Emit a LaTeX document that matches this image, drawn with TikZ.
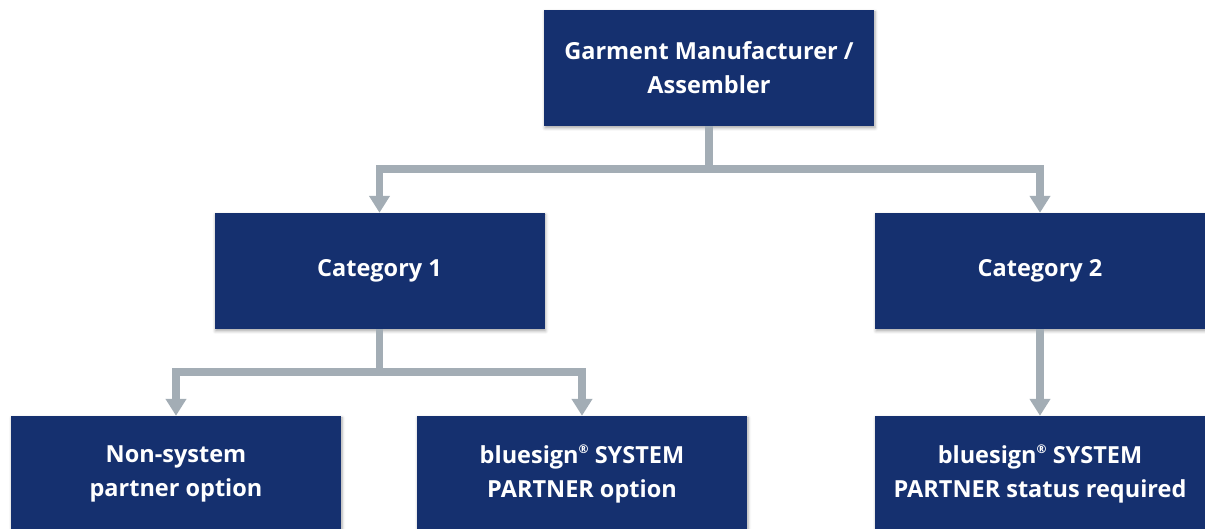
\documentclass[tikz,border=0pt]{standalone}
\usepackage{fontspec}
\setmainfont{Open Sans}
\usetikzlibrary{arrows.meta,shadows.blur}
\definecolor{navy}{HTML}{15306F}
\definecolor{conn}{HTML}{A3ADB5}
\newcommand{\regmark}{\raisebox{0.75ex}{\fontsize{12}{12}\selectfont\textregistered}}
\tikzset{
  box/.style={rectangle, fill=navy, text=white, minimum width=330pt, minimum height=116pt,
    inner sep=0pt, align=center, font=\fontsize{23.5}{34}\selectfont\bfseries,
    blur shadow={shadow xshift=1pt, shadow yshift=-2pt, shadow blur radius=3pt, shadow opacity=35}},
  link/.style={draw=conn, line width=7.5pt, line join=miter,
    -{Triangle[width=20pt,length=17pt]}}
}
\begin{document}
\begin{tikzpicture}[x=1pt,y=1pt]
\useasboundingbox (0,0) rectangle (1205,529);
\clip (0,0) rectangle (1205,529);
\node[box] (top) at (709,461) {Garment Manufacturer /\\Assembler};
\node[box] (cat1) at (379.5,258) {Category 1};
\node[box] (cat2) at (1040,258) {Category 2};
\node[box] (b1) at (176,55) {Non-system\\partner option};
\node[box] (b2) at (582,55) {bluesign\regmark\ SYSTEM\\PARTNER option};
\node[box] (b3) at (1040,55) {bluesign\regmark\ SYSTEM\\PARTNER status required};
\coordinate (j1) at (709,360);
\coordinate (j2) at (379.5,157);
\draw[link] (top.south) -- (j1) -| (cat1.north);
\draw[link] (top.south) -- (j1) -| (cat2.north);
\draw[link] (cat1.south) -- (j2) -| (b1.north);
\draw[link] (cat1.south) -- (j2) -| (b2.north);
\draw[link] (cat2.south) -- (b3.north);
\end{tikzpicture}
\end{document}
